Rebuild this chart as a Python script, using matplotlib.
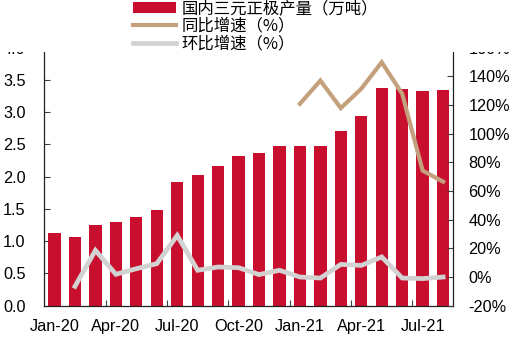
import matplotlib
matplotlib.use("Agg")
import matplotlib.pyplot as plt
from matplotlib.patches import Rectangle
import numpy as np

months = ["Jan-20", "Feb-20", "Mar-20", "Apr-20", "May-20", "Jun-20", "Jul-20", "Aug-20",
          "Sep-20", "Oct-20", "Nov-20", "Dec-20", "Jan-21", "Feb-21", "Mar-21", "Apr-21",
          "May-21", "Jun-21", "Jul-21", "Aug-21"]
output = [1.13, 1.06, 1.25, 1.29, 1.37, 1.49, 1.92, 2.02, 2.17, 2.32, 2.37, 2.48,
          2.48, 2.48, 2.71, 2.94, 3.37, 3.36, 3.33, 3.35]
yoy = [None] * 12 + [120.8, 137.0, 117.8, 131.3, 149.8, 127.8, 74.2, 66.5]
mom = [None, -6.5, 18.6, 1.9, 5.8, 9.3, 29.0, 4.7, 7.0, 6.5, 1.7, 4.7,
       0.0, -0.7, 8.8, 8.1, 14.0, -0.7, -1.1, 0.0]
left_ticks = [0.0, 0.5, 1.0, 1.5, 2.0, 2.5, 3.0, 3.5, 4.0]
right_ticks = [-20, 0, 20, 40, 60, 80, 100, 120, 140, 160]
label_bar = "国内三元正极产量（万吨）"
label_yoy = "同比增速（%）"
label_mom = "环比增速（%）"

bar_color = "#C8102E"
yoy_color = "#C4A07C"
mom_color = "#D2D2D2"
tick_font = "Liberation Sans"
fs = 11.7

fig = plt.figure(figsize=(5.26, 3.38), dpi=100)
ax = fig.add_axes([44.3 / 526, 32.3 / 338, (453.3 - 44.3) / 526, (305.7 - 47.6) / 338])
ax2 = ax.twinx()

x = np.arange(len(months))
bars = ax.bar(x, output, width=0.6, color=bar_color, label=label_bar, zorder=2)

yoy_x = [i for i, v in enumerate(yoy) if v is not None]
yoy_v = [v for v in yoy if v is not None]
mom_x = [i for i, v in enumerate(mom) if v is not None]
mom_v = [v for v in mom if v is not None]
l1, = ax2.plot(yoy_x, yoy_v, color=yoy_color, lw=3.0, label=label_yoy, solid_joinstyle="miter")
l2, = ax2.plot(mom_x, mom_v, color=mom_color, lw=3.4, label=label_mom, solid_joinstyle="miter")

ax.set_xlim(-0.5, len(months) - 0.5)
ax.set_ylim(0, 4)
ax2.set_ylim(-20, 160)
ax.set_yticks(left_ticks)
ax.set_yticklabels([f"{v:.1f}" for v in left_ticks], fontfamily=tick_font, fontsize=fs)
ax2.set_yticks(right_ticks)
ax2.set_yticklabels([f"{v}%" for v in right_ticks], fontfamily=tick_font, fontsize=fs)
ax.set_xticks(x[::3])
ax.set_xticklabels(months[::3], fontfamily=tick_font, fontsize=fs)
ax.set_xticks(np.arange(2.5, len(months) - 1, 3), minor=True)

ax.tick_params(axis="x", which="major", length=0, pad=9.5)
ax.tick_params(axis="x", which="minor", direction="in", length=4, width=0.8, color="#404040")
ax.tick_params(axis="y", direction="in", length=4, width=0.8, color="#404040", pad=13.5)
ax2.tick_params(axis="y", direction="in", length=4, width=0.8, color="#404040", pad=10.8)

for a in (ax, ax2):
    a.spines["top"].set_visible(False)
    for s in ("left", "right", "bottom"):
        a.spines[s].set_color("#202020")
        a.spines[s].set_linewidth(0.9)
ax2.spines["left"].set_visible(False)
ax2.spines["bottom"].set_visible(False)
ax.spines["right"].set_visible(False)

# white band on top (legend area covering the top of the plot)
cover = Rectangle((0, (338 - 51.5) / 338), 1, 1, transform=fig.transFigure,
                  facecolor="white", edgecolor="none", zorder=5)
fig.patches.append(cover)

leg = fig.legend([bars, l1, l2], [label_bar, label_yoy, label_mom],
                 loc="upper left", bbox_to_anchor=(133 / 526, 1.0),
                 frameon=False, borderpad=0.0, borderaxespad=0.0,
                 handlelength=2.65, handletextpad=0.3, labelspacing=0.04,
                 prop={"family": ["Noto Sans CJK SC", "DejaVu Sans"], "size": 11.8})
leg.set_zorder(6)

fig.savefig("out.png", dpi=100)
